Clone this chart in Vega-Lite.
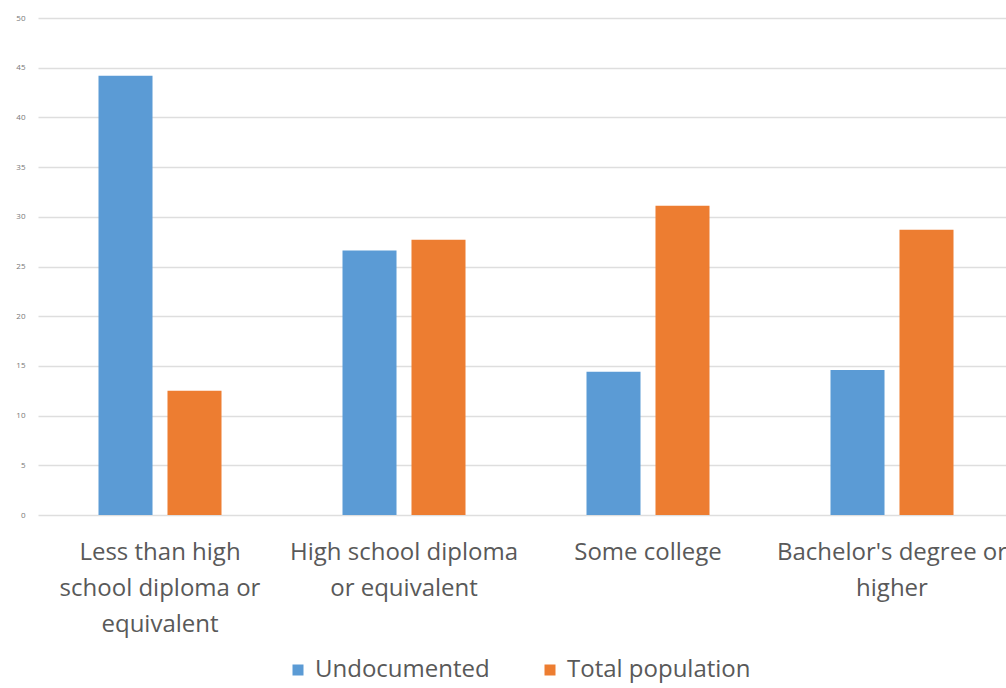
{
  "$schema": "https://vega.github.io/schema/vega-lite/v6.json",
  "autosize": "none",
  "width": 976,
  "height": 497,
  "padding": {"left": 38, "top": 18, "right": 0, "bottom": 173},
  "background": "white",
  "config": {
    "view": {"stroke": null},
    "font": "Open Sans"
  },
  "data": {
    "values": [
      {"category": "Less than high|school diploma or|equivalent", "series": "Undocumented", "value": 44.2},
      {"category": "Less than high|school diploma or|equivalent", "series": "Total population", "value": 12.5},
      {"category": "High school diploma|or equivalent", "series": "Undocumented", "value": 26.6},
      {"category": "High school diploma|or equivalent", "series": "Total population", "value": 27.7},
      {"category": "Some college", "series": "Undocumented", "value": 14.4},
      {"category": "Some college", "series": "Total population", "value": 31.1},
      {"category": "Bachelor's degree or|higher", "series": "Undocumented", "value": 14.6},
      {"category": "Bachelor's degree or|higher", "series": "Total population", "value": 28.7}
    ]
  },
  "mark": {"type": "bar"},
  "encoding": {
    "x": {
      "field": "category",
      "type": "nominal",
      "sort": null,
      "scale": {"paddingInner": 0, "paddingOuter": 0},
      "axis": {
        "title": null,
        "labelAngle": 0,
        "ticks": false,
        "domain": false,
        "labelExpr": "split(datum.label, '|')",
        "labelFontSize": 24,
        "labelColor": "#595959",
        "labelLineHeight": 36,
        "labelPadding": 44,
        "labelBaseline": "alphabetic",
        "labelLimit": 400
      }
    },
    "xOffset": {
      "field": "series",
      "type": "nominal",
      "sort": ["Undocumented", "Total population"],
      "scale": {"paddingInner": 0.217, "paddingOuter": 0.877}
    },
    "y": {
      "field": "value",
      "type": "quantitative",
      "scale": {"domain": [0, 50]},
      "axis": {
        "title": null,
        "values": [0, 5, 10, 15, 20, 25, 30, 35, 40, 45, 50],
        "ticks": false,
        "domain": false,
        "grid": true,
        "gridColor": "#dedede",
        "gridWidth": 1.3,
        "labelFontSize": 8,
        "labelColor": "#777777",
        "labelPadding": 13
      }
    },
    "color": {
      "field": "series",
      "type": "nominal",
      "sort": ["Undocumented", "Total population"],
      "scale": {"domain": ["Undocumented", "Total population"], "range": ["#5b9bd5", "#ed7d31"]},
      "legend": {
        "title": null,
        "orient": "none",
        "direction": "horizontal",
        "legendX": 248,
        "legendY": 640,
        "symbolType": "square",
        "symbolSize": 121,
        "symbolStrokeWidth": 0,
        "labelFontSize": 24,
        "labelColor": "#595959",
        "labelOffset": 5,
        "labelLimit": 400,
        "columnPadding": 48
      }
    }
  }
}
